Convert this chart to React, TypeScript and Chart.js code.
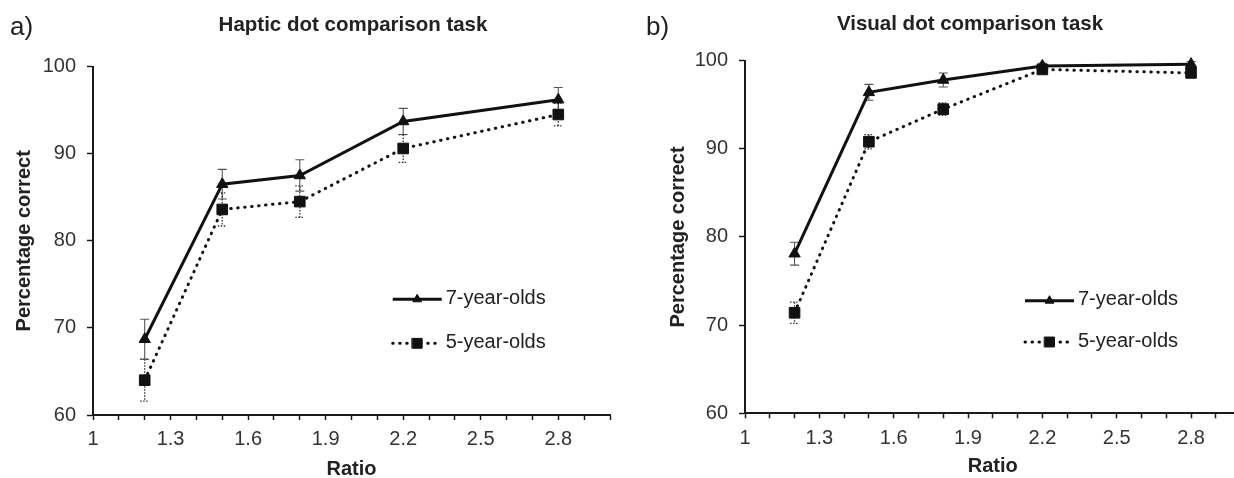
import React, { useEffect, useRef } from 'react';
import { Chart, registerables } from 'chart.js';

Chart.register(...registerables);

const FONT = '"Liberation Sans", Arial, Helvetica, sans-serif';

// ---- data ----
const ratios = [1.2, 1.5, 1.8, 2.2, 2.8];
const seriesLabels = ['7-year-olds', '5-year-olds'];

const hapticSeven = [68.7, 86.5, 87.5, 93.7, 96.2];
const hapticSevenErr = [2.3, 1.7, 1.8, 1.5, 1.4];
const hapticFive = [64.0, 83.6, 84.5, 90.6, 94.5];
const hapticFiveErr = [2.4, 1.9, 1.8, 1.6, 1.3];

const visualSeven = [78.1, 96.4, 97.8, 99.4, 99.6];
const visualSevenErr = [1.3, 0.9, 0.8, 0.3, 0.3];
const visualFive = [71.4, 90.8, 94.5, 99.0, 98.6];
const visualFiveErr = [1.2, 0.8, 0.7, 0.3, 0.4];

const xTickValues = [1, 1.3, 1.6, 1.9, 2.2, 2.5, 2.8];
const xTickLabels = ['1', '1.3', '1.6', '1.9', '2.2', '2.5', '2.8'];
const yMin = 60;
const yMax = 100;
const yStep = 10;
const xMin = 1;
const xMax = 3;
const xMinorStep = 0.1;

// ---- plugins ----
function drawMarker(ctx: CanvasRenderingContext2D, style: string, x: number, y: number, r: number, color: string) {
  ctx.save();
  ctx.fillStyle = color;
  ctx.strokeStyle = color;
  ctx.lineWidth = 1;
  ctx.beginPath();
  if (style === 'triangle') {
    let rad = 0;
    ctx.moveTo(x + Math.sin(rad) * r, y - Math.cos(rad) * r);
    rad += (2 * Math.PI) / 3;
    ctx.lineTo(x + Math.sin(rad) * r, y - Math.cos(rad) * r);
    rad += (2 * Math.PI) / 3;
    ctx.lineTo(x + Math.sin(rad) * r, y - Math.cos(rad) * r);
    ctx.closePath();
  } else {
    const s = Math.SQRT1_2 * r;
    ctx.rect(x - s, y - s, 2 * s, 2 * s);
  }
  ctx.fill();
  ctx.stroke();
  ctx.restore();
}

const errorBarsPlugin = {
  id: 'errorBars',
  beforeDatasetsDraw(chart: any) {
    const { ctx } = chart;
    const xs = chart.scales.x;
    const ys = chart.scales.y;
    chart.data.datasets.forEach((ds: any) => {
      const errs: number[] = ds.errors;
      if (!errs) return;
      ctx.save();
      ctx.strokeStyle = ds.errorColor || '#444';
      ctx.lineWidth = ds.errorWidth || 1.2;
      ctx.setLineDash(ds.errorDash || []);
      ds.data.forEach((pt: any, i: number) => {
        const x = xs.getPixelForValue(pt.x);
        const top = ys.getPixelForValue(pt.y + errs[i]);
        const bot = ys.getPixelForValue(pt.y - errs[i]);
        const cap = 4.5;
        ctx.beginPath();
        ctx.moveTo(x, top);
        ctx.lineTo(x, bot);
        ctx.moveTo(x - cap, top);
        ctx.lineTo(x + cap, top);
        ctx.moveTo(x - cap, bot);
        ctx.lineTo(x + cap, bot);
        ctx.stroke();
      });
      ctx.restore();
    });
  },
};

const insideLegendPlugin = {
  id: 'insideLegend',
  afterDraw(chart: any, _args: any, opts: any) {
    const { ctx, chartArea } = chart;
    const x0 = chartArea.right - opts.fromRight;
    chart.data.datasets.forEach((ds: any, i: number) => {
      const y = chartArea.bottom - opts.rows[i];
      ctx.save();
      ctx.strokeStyle = ds.borderColor;
      ctx.lineWidth = ds.borderWidth;
      ctx.lineCap = ds.borderCapStyle || 'butt';
      ctx.setLineDash(ds.borderDash || []);
      ctx.beginPath();
      ctx.moveTo(x0, y);
      ctx.lineTo(x0 + opts.lineLength, y);
      ctx.stroke();
      ctx.setLineDash([]);
      drawMarker(ctx, ds.pointStyle, x0 + opts.lineLength / 2, y, opts.markerRadius[i], ds.pointBackgroundColor);
      ctx.fillStyle = opts.color;
      ctx.font = `20px ${FONT}`;
      ctx.textBaseline = 'middle';
      ctx.textAlign = 'left';
      ctx.fillText(ds.label, x0 + opts.lineLength + opts.gap, y - 1);
      ctx.restore();
    });
  },
};

const panelLabelPlugin = {
  id: 'panelLabel',
  afterDraw(chart: any, _args: any, opts: any) {
    const { ctx } = chart;
    ctx.save();
    ctx.fillStyle = opts.color;
    ctx.font = `26px ${FONT}`;
    ctx.textBaseline = 'alphabetic';
    ctx.textAlign = 'left';
    ctx.fillText(opts.text, opts.x, opts.y);
    ctx.restore();
  },
};

// ---- config ----
type Panel = {
  title: string;
  letter: string;
  seven: number[];
  sevenErr: number[];
  five: number[];
  fiveErr: number[];
  width: number;
  height: number;
  padLeft: number;
  rightGap: number;
  yAxisWidth: number;
  chartBottom: number;
  titlePadTop: number;
  titlePadBottom: number;
  yTitlePad: number;
  xTitlePad: number;
  xTickPad: number;
  letterX: number;
  legendFromRight: number;
  legendRows: number[];
};

function makeConfig(p: Panel): any {
  const toPts = (vals: number[]) => vals.map((v, i) => ({ x: ratios[i], y: v }));
  return {
    type: 'line',
    data: {
      datasets: [
        {
          label: seriesLabels[0],
          data: toPts(p.seven),
          errors: p.sevenErr,
          errorColor: '#555',
          errorWidth: 1.1,
          errorDash: [],
          borderColor: '#111',
          borderWidth: 3,
          pointStyle: 'triangle',
          pointRadius: 6.5,
          pointBackgroundColor: '#111',
          pointBorderColor: '#111',
          pointBorderWidth: 1,
          tension: 0,
          clip: false,
          order: 0,
        },
        {
          label: seriesLabels[1],
          data: toPts(p.five),
          errors: p.fiveErr,
          errorColor: '#333',
          errorWidth: 1.3,
          errorDash: [1.5, 1.5],
          borderColor: '#111',
          borderWidth: 3,
          borderDash: [0.5, 6.5],
          borderCapStyle: 'round',
          pointStyle: 'rect',
          pointRadius: 7.5,
          pointBackgroundColor: '#111',
          pointBorderColor: '#111',
          pointBorderWidth: 1,
          tension: 0,
          clip: false,
          order: 1,
        },
      ],
    },
    options: {
      responsive: false,
      animation: false,
      events: [],
      layout: { padding: { left: p.padLeft, right: 0, top: 0, bottom: 0 } },
      scales: {
        x: {
          type: 'linear',
          min: xMin,
          max: xMax,
          afterFit: (s: any) => {
            s.height = p.height - p.chartBottom;
          },
          border: { display: true, color: '#1a1a1a', width: 2 },
          grid: { drawOnChartArea: false, drawTicks: true, tickLength: 5, color: '#1a1a1a', tickWidth: 1.5 },
          ticks: {
            stepSize: xMinorStep,
            autoSkip: false,
            maxRotation: 0,
            padding: p.xTickPad,
            color: '#333',
            font: { size: 20, family: FONT },
            callback: (value: number) => {
              const idx = xTickValues.findIndex((v) => Math.abs(v - value) < 1e-6);
              return idx >= 0 ? xTickLabels[idx] : '';
            },
          },
          title: {
            display: true,
            text: 'Ratio',
            color: '#222',
            font: { size: 20, weight: 'bold', family: FONT },
            padding: { top: 0, bottom: p.xTitlePad },
          },
        },
        y: {
          type: 'linear',
          min: yMin,
          max: yMax,
          afterFit: (s: any) => {
            s.width = p.yAxisWidth;
          },
          border: { display: true, color: '#1a1a1a', width: 2 },
          grid: { drawOnChartArea: false, drawTicks: true, tickLength: 6, color: '#1a1a1a', tickWidth: 1.5 },
          ticks: {
            stepSize: yStep,
            padding: 11,
            color: '#333',
            font: { size: 20, family: FONT },
          },
          title: {
            display: true,
            text: 'Percentage correct',
            color: '#222',
            font: { size: 20, weight: 'bold', family: FONT },
            padding: { top: p.yTitlePad, bottom: 0 },
          },
        },
        // empty spacer on the right so the chart title centres like the reference
        spacer: {
          type: 'linear',
          position: 'right',
          display: true,
          min: yMin,
          max: yMax,
          afterFit: (s: any) => {
            s.width = p.rightGap;
          },
          border: { display: false },
          grid: { display: false },
          ticks: { display: false },
        },
      },
      plugins: {
        legend: { display: false },
        tooltip: { enabled: false },
        title: {
          display: true,
          text: p.title,
          color: '#222',
          font: { size: 20.5, weight: 'bold', family: FONT },
          padding: { top: p.titlePadTop, bottom: p.titlePadBottom },
        },
        insideLegend: {
          fromRight: p.legendFromRight,
          rows: p.legendRows,
          lineLength: 49,
          gap: 4,
          markerRadius: [5, 7],
          color: '#222',
        },
        panelLabel: { text: p.letter, x: p.letterX, y: 35, color: '#222' },
      },
    },
    plugins: [errorBarsPlugin, insideLegendPlugin, panelLabelPlugin],
  };
}

const leftPanel: Panel = {
  title: 'Haptic dot comparison task',
  letter: 'a)',
  seven: hapticSeven,
  sevenErr: hapticSevenErr,
  five: hapticFive,
  fiveErr: hapticFiveErr,
  width: 706,
  height: 490,
  padLeft: 0,
  rightGap: 96,
  yAxisWidth: 93,
  chartBottom: 415,
  titlePadTop: 13,
  titlePadBottom: 29,
  yTitlePad: 12,
  xTitlePad: 8.5,
  xTickPad: 7,
  letterX: 10,
  legendFromRight: 217.3,
  legendRows: [115.7, 71.7],
};

const rightPanel: Panel = {
  title: 'Visual dot comparison task',
  letter: 'b)',
  seven: visualSeven,
  sevenErr: visualSevenErr,
  five: visualFive,
  fiveErr: visualFiveErr,
  width: 668,
  height: 490,
  padLeft: 32,
  rightGap: 47.4,
  yAxisWidth: 93,
  chartBottom: 413.3,
  titlePadTop: 12,
  titlePadBottom: 24,
  yTitlePad: 14,
  xTitlePad: 12,
  xTickPad: 8,
  letterX: 26,
  legendFromRight: 215.6,
  legendRows: [112.6, 71.3],
};

function PanelChart({ panel, left }: { panel: Panel; left: number }) {
  const ref = useRef<HTMLCanvasElement | null>(null);
  useEffect(() => {
    if (!ref.current) return;
    const chart = new Chart(ref.current, makeConfig(panel));
    return () => chart.destroy();
  }, [panel]);
  return (
    <canvas
      ref={ref}
      width={panel.width}
      height={panel.height}
      style={{ position: 'absolute', left, top: 0, width: panel.width, height: panel.height }}
    />
  );
}

export default function App() {
  Chart.defaults.font.family = FONT;
  return (
    <div
      style={{
        position: 'fixed',
        left: 0,
        top: 0,
        width: 1234,
        height: 478,
        overflow: 'hidden',
        background: '#fff',
      }}
    >
      <PanelChart panel={leftPanel} left={0} />
      <PanelChart panel={rightPanel} left={620} />
    </div>
  );
}
